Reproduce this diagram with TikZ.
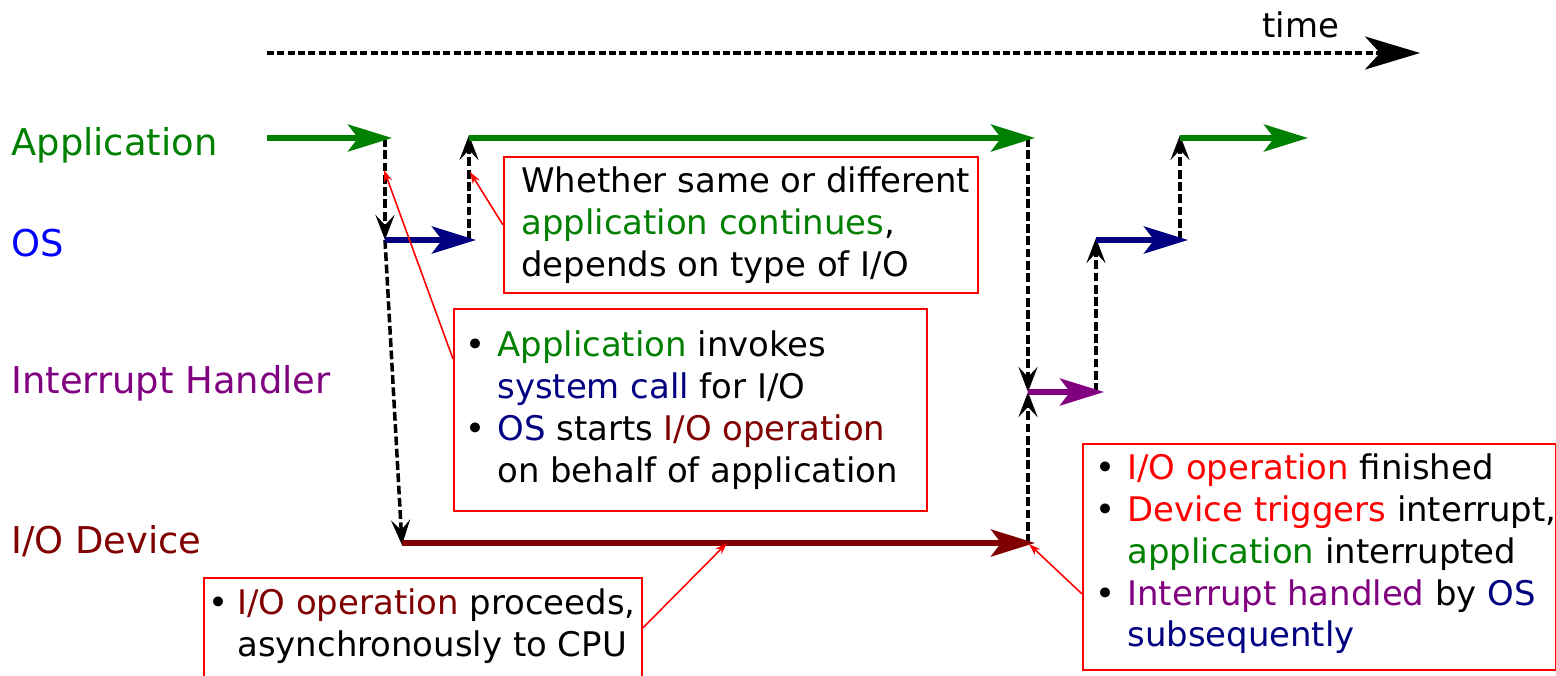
\documentclass[tikz,border=0pt]{standalone}
\usepackage{fontspec}
\setmainfont{DejaVu Sans}
\usetikzlibrary{arrows.meta, positioning, calc}
\definecolor{appgreen}{RGB}{0,128,0}
\definecolor{osblue}{RGB}{0,0,255}
\definecolor{osnavy}{RGB}{0,0,128}
\definecolor{irqpurple}{RGB}{128,0,128}
\definecolor{devmaroon}{RGB}{128,0,0}
\newcommand{\bul}{\makebox[0.64cm][l]{\textbullet}}
\newcommand{\ind}{\makebox[0.64cm]{}}

\begin{document}
\begin{tikzpicture}[
  x=0.02cm, y=-0.02cm,
  every node/.style={font=\fontsize{19.3}{23.8}\selectfont},
  lane/.style={anchor=base west, inner sep=0pt, font=\fontsize{21}{25}\selectfont},
  notebox/.style={rectangle, draw=red, line width=1.1pt, anchor=north west, inner sep=0pt},
  notetext/.style={anchor=west, align=left, inner sep=0pt},
  flow/.style={line width=3pt, -{Stealth[length=0.88cm, width=0.54cm, inset=0.2cm]}},
  ctl/.style={line width=2pt, dash pattern=on 5pt off 2pt, -{Stealth[length=0.5cm, width=0.38cm, inset=0.2cm]}},
  timearrow/.style={line width=1.8pt, dash pattern=on 4pt off 1.9pt, -{Stealth[length=1.1cm, width=0.66cm, inset=0.3cm]}},
  notearrow/.style={red, line width=0.9pt, -{Stealth[length=0.24cm, width=0.16cm]}},
]
\useasboundingbox (0,0) rectangle (1556,676);

% Time axis
\coordinate (t0) at (267,53);
\coordinate (t1) at (1420,53);
\draw[timearrow] (t0) -- (t1);
\node[anchor=base, inner sep=0pt] (ltime) at (1301,37) {time};

% Lanes
\node[lane, text=appgreen]  (lapp) at (11,155) {Application};
\node[lane, text=osblue]    (los)  at (11,256) {OS};
\node[lane, text=irqpurple] (lirq) at (11,393) {Interrupt Handler};
\node[lane, text=devmaroon] (ldev) at (11,553) {I/O Device};

% Execution segments
\coordinate (a1s) at (267,138);  \coordinate (a1e) at (392,138);
\coordinate (a2s) at (469,138);  \coordinate (a2e) at (1035,138);
\coordinate (a3s) at (1180,138); \coordinate (a3e) at (1308,138);
\coordinate (o1s) at (385,240);  \coordinate (o1e) at (476,240);
\coordinate (o2s) at (1096,240); \coordinate (o2e) at (1188,240);
\coordinate (i1s) at (1028,392); \coordinate (i1e) at (1104,392);
\coordinate (d1s) at (402,545);  \coordinate (d1e) at (1035,543);

% Switches (dashed)
\draw[ctl] (a1e -| o1s) -- (o1s);
\draw[ctl] (o1e -| a2s) -- ([yshift=0.06cm]a2s);
\draw[ctl] (o1s) -- (d1s);
\draw[ctl] (a2e -| i1s) -- (i1s);
\draw[ctl] (d1e -| i1s) -- (i1s);
\draw[ctl] (i1e -| o2s) -- ([yshift=0.04cm]o2s);
\draw[ctl] (o2e -| a3s) -- ([yshift=0.06cm]a3s);

\draw[flow, appgreen]  (a1s) -- (a1e);
\draw[flow, appgreen]  (a2s) -- (a2e);
\draw[flow, appgreen]  (a3s) -- (a3e);
\draw[flow, osnavy]    (o1s) -- (o1e);
\draw[flow, osnavy]    (o2s) -- (o2e);
\draw[flow, irqpurple] (i1s) -- (i1e);
\draw[flow, devmaroon] (d1s |- d1e) -- (d1e);

% Notes
\node[notebox, minimum width=9.48cm, minimum height=2.72cm] (nb1) at (503,156) {};
\node[notetext] (nb1t) at ([xshift=0.36cm]nb1.west)
  {Whether same or different\\\textcolor{appgreen}{application continues},\\depends on type of I/O};

\node[notebox, minimum width=9.46cm, minimum height=4.04cm] (nb2) at (453,308) {};
\node[notetext] (nb2t) at ([xshift=0.24cm]nb2.west)
  {\bul\textcolor{appgreen}{Application} invokes\\\ind\textcolor{osnavy}{system call} for I/O\\
   \bul\textcolor{osnavy}{OS} starts \textcolor{devmaroon}{I/O operation}\\\ind on behalf of application};

\node[notebox, minimum width=8.76cm, minimum height=2.3cm] (nb3) at (203,577) {};
\node[notetext] (nb3t) at ([xshift=0.04cm, yshift=0.19cm]nb3.west)
  {\makebox[0.64cm][l]{\hspace{0.06cm}\textbullet}\textcolor{devmaroon}{I/O operation} proceeds,\\\ind asynchronously to CPU};

\node[notebox, minimum width=9.46cm, minimum height=4.52cm] (nb4) at (1082,443) {};
\node[notetext] (nb4t) at ([xshift=0.26cm, yshift=0.06cm]nb4.west)
  {\bul\textcolor{red}{I/O operation} finished\\\bul\textcolor{red}{Device triggers} interrupt,\\
   \ind\textcolor{appgreen}{application} interrupted\\
   \bul\textcolor{irqpurple}{Interrupt handled} by \textcolor{osnavy}{OS}\\\ind\textcolor{osnavy}{subsequently}};

\coordinate (n1tip) at (470,172);
\coordinate (n2tip) at (384,170);
\coordinate (n3tip) at (727,543);
\coordinate (n4tip) at (1029,544);
\draw[notearrow] (nb1.west) -- (n1tip);
\draw[notearrow] ([yshift=1.02cm]nb2.west) -- (n2tip);
\draw[notearrow] ([yshift=0.15cm]nb3.east) -- (n3tip);
\draw[notearrow] ([yshift=-0.74cm]nb4.west) -- (n4tip);

\end{tikzpicture}
\end{document}
